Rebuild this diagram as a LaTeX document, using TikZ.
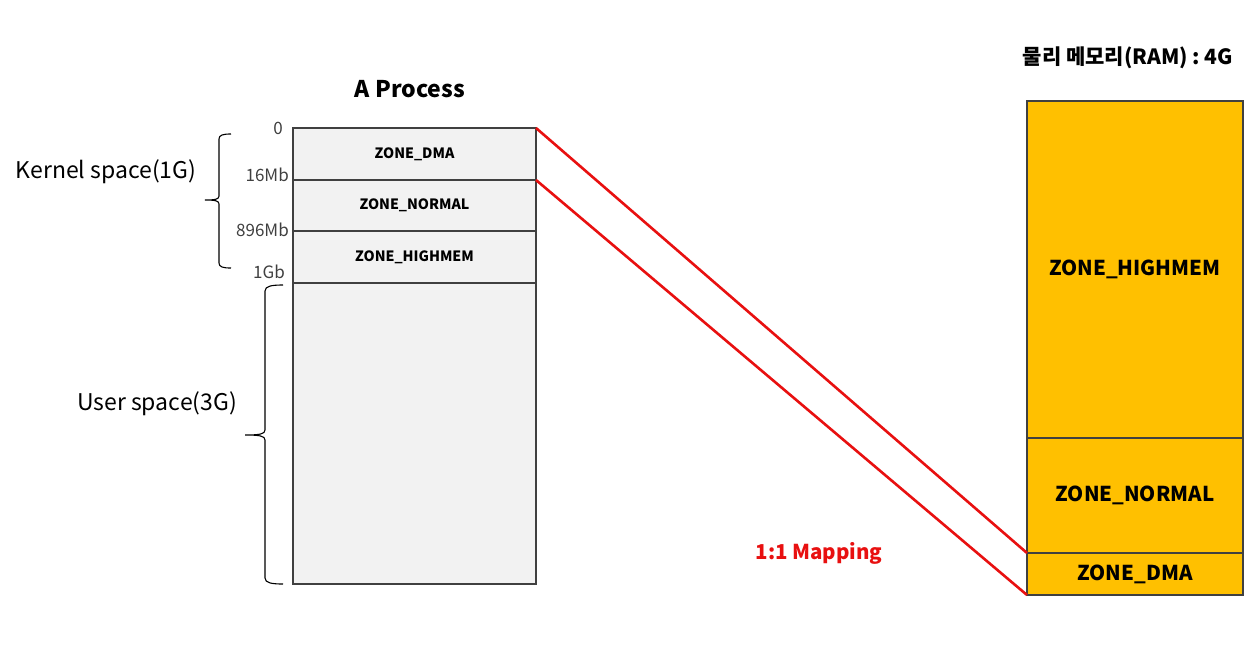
\documentclass[tikz,border=0pt]{standalone}
\usepackage{fontspec}
\setmainfont{Noto Sans CJK KR}
\definecolor{pgray}{HTML}{F2F2F2}
\definecolor{ramor}{HTML}{FFC000}
\definecolor{mapred}{HTML}{E81010}
\tikzset{
  pzone/.style={draw=black!75, fill=pgray, line width=1.4pt, inner sep=0pt, outer sep=0pt, minimum width=243pt, anchor=north west, font=\fontsize{14.2}{16}\selectfont\bfseries},
  rzone/.style={draw=black!75, fill=ramor, line width=1.4pt, inner sep=0pt, outer sep=0pt, minimum width=216pt, anchor=north west, font=\fontsize{20.5}{22}\selectfont\bfseries},
  addr/.style={anchor=east, font=\fontsize{17}{19}\selectfont, text=black!75, inner sep=0pt},
  side/.style={font=\fontsize{23}{26}\selectfont, inner sep=0pt},
  bracebar/.style={draw, line width=1.1pt},
  mapline/.style={draw=mapred, line width=2.6pt}
}
\begin{document}
\begin{tikzpicture}[x=1pt, y=-1pt]
\useasboundingbox (0,0) rectangle (1255,659);
% process
\node[pzone, minimum height=52pt] (pdma) at (293,128) {ZONE\_DMA};
\node[pzone, minimum height=51pt] (pnormal) at (293,180) {ZONE\_NORMAL};
\node[pzone, minimum height=52pt] (phigh) at (293,231) {ZONE\_HIGHMEM};
\node[pzone, minimum height=301pt] (puser) at (293,283) {};
\node[font=\fontsize{23}{26}\selectfont\bfseries] (ptitle) at (410,89) {A Process};
% addresses
\node[addr] (a0) at (283,128) {0};
\node[addr] (a16) at (289,175) {16Mb};
\node[addr] (a896) at (289,230) {896Mb};
\node[addr] (a1g) at (285,272) {1Gb};
% braces
\draw[bracebar] (231,134) .. controls (223,134) and (219,135) .. (219,139)
  -- (219,196) .. controls (219,199) and (216,200) .. (205,200)
  .. controls (216,200) and (219,201) .. (219,204)
  -- (219,263) .. controls (219,267) and (223,268) .. (231,268);
\draw[bracebar] (283,285) .. controls (272,285) and (265,286) .. (265,291)
  -- (265,430) .. controls (265,434) and (260,435) .. (245,435)
  .. controls (260,435) and (265,436) .. (265,440)
  -- (265,578) .. controls (265,583) and (272,584) .. (283,584);
\node[side] (kern) at (106,172) {Kernel space(1G)};
\node[side] (user) at (157,404) {User space(3G)};
% RAM
\node[rzone, minimum height=337pt] (rhigh) at (1027,101) {ZONE\_HIGHMEM};
\node[rzone, minimum height=115pt] (rnormal) at (1027,438) {ZONE\_NORMAL};
\node[rzone, minimum height=42pt] (rdma) at (1027,553) {ZONE\_DMA};
\node[font=\fontsize{21}{23}\selectfont\bfseries] (rtitle) at (1128,58) {물리 메모리(RAM) : 4G};
% mapping
\draw[mapline] (pdma.north east) -- (rdma.north west);
\draw[mapline] (pnormal.north east) -- (rdma.south west);
\node[font=\fontsize{20.5}{22}\selectfont\bfseries, text=mapred] (maplbl) at (819,553) {1:1 Mapping};
\end{tikzpicture}
\end{document}
